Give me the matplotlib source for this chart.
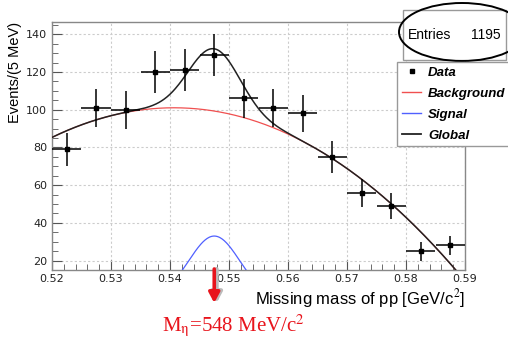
import matplotlib
matplotlib.use("Agg")
import matplotlib.pyplot as plt
from matplotlib.patches import Ellipse, Rectangle
from matplotlib.lines import Line2D
from matplotlib.ticker import MultipleLocator
import numpy as np

# histogram: missing mass of pp, 5 MeV bins
bin_centers = [0.5225, 0.5275, 0.5325, 0.5375, 0.5425, 0.5475, 0.5525,
               0.5575, 0.5625, 0.5675, 0.5725, 0.5775, 0.5825, 0.5875]
counts = [79, 101, 100, 120, 121, 129, 106, 101, 98, 75, 56, 49, 25, 28]
bin_half_width = 0.0025
entries = 1195

# fit results
# background: cubic in t = (x - 0.54) / 0.01
bkg_coeffs = [101.0, 0.5, -3.7, -0.0142]
# signal: gaussian
sig_amp = 33.0
sig_mean = 0.5475
sig_sigma = 0.0043
eta_mass_label = r"M$_{\mathrm{\eta}}$=548 MeV/c$^{2}$"

W, H = 508, 344
fig = plt.figure(figsize=(W / 100, H / 100), dpi=100)
plt.rcParams["mathtext.fontset"] = "stix"
ax = fig.add_axes([52 / W, 1 - 270 / H, (465 - 52) / W, (270 - 22) / H])

x = np.linspace(0.52, 0.59, 600)
t = (x - 0.54) / 0.01
bkg = sum(c * t ** i for i, c in enumerate(bkg_coeffs))
sig = sig_amp * np.exp(-0.5 * ((x - sig_mean) / sig_sigma) ** 2)

ax.plot(x, bkg, color="#f05050", lw=0.9, zorder=3)
ax.plot(x, sig, color="#5060ff", lw=0.9, zorder=3)
ax.plot(x, bkg + sig, color="#222222", lw=1.1, zorder=4)

counts = np.array(counts, dtype=float)
ax.errorbar(bin_centers, counts, yerr=np.sqrt(counts), xerr=bin_half_width,
            fmt="s", color="black", ms=3, elinewidth=1.1, capsize=0, zorder=5)

ax.set_xlim(0.52, 0.59)
ax.set_ylim(15, 146.5)
ax.xaxis.set_major_locator(MultipleLocator(0.01))
ax.xaxis.set_minor_locator(MultipleLocator(0.002))
ax.yaxis.set_major_locator(MultipleLocator(20))
ax.yaxis.set_minor_locator(MultipleLocator(5))
ax.xaxis.set_major_formatter(matplotlib.ticker.FormatStrFormatter("%.2f"))
ax.tick_params(which="both", direction="in", colors="#555555",
               labelcolor="#222222", labelsize=8, top=False, right=False)
ax.tick_params(which="major", length=7)
ax.tick_params(which="minor", length=4)
ax.tick_params(axis="x", pad=3)
ax.grid(True, which="major", color="#cccccc", linestyle=(0, (2, 2)), lw=0.8)
for s in ax.spines.values():
    s.set_color("#888888")
    s.set_linewidth(1.0)

ax.set_ylabel("Events/(5 MeV)", fontsize=10.5, loc="top", labelpad=3,
              fontfamily="Liberation Sans")
ax.set_xlabel("Missing mass of pp [GeV/c$^{2}$]", fontsize=12, loc="right",
              labelpad=2, fontfamily="Liberation Sans")

# stats box with hand-drawn ellipse
fig.patches.append(Rectangle((403 / W, 1 - 60 / H), 103 / W, 50 / H,
                             transform=fig.transFigure, fill=True,
                             facecolor="white", edgecolor="#999999", lw=1.0))
fig.text(408 / W, 1 - 35 / H, "Entries", fontsize=10, va="center",
         fontfamily="Liberation Sans")
fig.text(501 / W, 1 - 35 / H, str(entries), fontsize=10, va="center",
         ha="right", fontfamily="Liberation Sans")
fig.patches.append(Ellipse((462 / W, 1 - 32 / H), 126 / W, 58 / H,
                           transform=fig.transFigure, fill=False,
                           edgecolor="black", lw=1.4))

# legend
handles = [
    Line2D([], [], color="black", marker="s", ms=3, ls="none"),
    Line2D([], [], color="#f05050", lw=1.0),
    Line2D([], [], color="#5060ff", lw=1.0),
    Line2D([], [], color="#222222", lw=1.3),
]
labels = ["Data", "Background", "Signal", "Global"]
leg = fig.legend(handles, labels, loc="upper left",
                 bbox_to_anchor=(397 / W, 1 - 62 / H), borderaxespad=0,
                 fancybox=False, edgecolor="#999999", framealpha=1,
                 handlelength=1.5, handletextpad=0.5, labelspacing=0.66,
                 borderpad=0.35,
                 prop={"family": "Liberation Sans", "weight": "bold",
                       "style": "italic", "size": 9.5})
leg.get_frame().set_linewidth(1.0)

# eta mass marker below the axis (with a soft shadow)
for dx, col, lw in [(0.0004, "#bbbbbb", 3.0), (0.0, "#e8141c", 2.6)]:
    ax.annotate("", xy=(sig_mean + dx, 1 - 303 / H),
                xytext=(sig_mean + dx, 1 - 269 / H),
                xycoords=("data", "figure fraction"),
                textcoords=("data", "figure fraction"), annotation_clip=False,
                arrowprops=dict(arrowstyle="-|>,head_length=0.6,head_width=0.32",
                                color=col, lw=lw, shrinkA=0, shrinkB=0))
fig.text(162 / W, 1 - 331 / H, eta_mass_label, color="#e8141c", fontsize=15,
         va="baseline", fontfamily="Liberation Serif")

fig.savefig("out.png", dpi=100)
